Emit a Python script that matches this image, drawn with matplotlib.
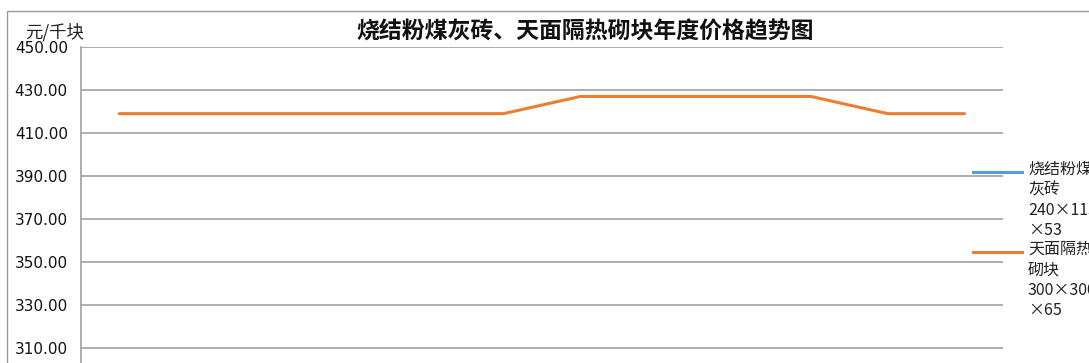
import matplotlib.pyplot as plt
from matplotlib.lines import Line2D
from matplotlib.patches import Rectangle
import numpy as np

plt.rcParams['font.family'] = ['Noto Sans CJK SC', 'DejaVu Sans']

# monthly prices, yuan per thousand blocks
months = ['1月', '2月', '3月', '4月', '5月', '6月', '7月', '8月', '9月', '10月', '11月', '12月']
brick_price = [298, 298, 298, 298, 298, 298, 298, 298, 298, 298, 298, 298]
block_price = [419, 419, 419, 419, 419, 419, 427, 427, 427, 427, 419, 419]
y_ticks = [310, 330, 350, 370, 390, 410, 430, 450]
brick_label = '烧结粉煤\n灰砖\n240×115\n×53'
block_label = '天面隔热\n砌块\n300×300\n×65'

W, H = 1089, 363
fig = plt.figure(figsize=(W / 100, H / 100), dpi=100)

# outer chart frame
fig.add_artist(Rectangle((7 / W, -0.1), 1.2, 1 - 11 / H + 0.1, transform=fig.transFigure,
                         fill=False, edgecolor='#9a9a9a', linewidth=1.0))

left, right, top = 81 / W, 1003 / W, 1 - 47 / H
ymin, ymax = 290, 450
height = (ymax - ymin) / 20 * 43 / H
ax = fig.add_axes([left, top - height, right - left, height])

x = np.arange(len(months))
ax.plot(x, brick_price, color='#5B9BD5', linewidth=2.2, solid_capstyle='round')
ax.plot(x, block_price, color='#ED7D31', linewidth=2.2, solid_capstyle='round')

ax.set_xlim(-0.5, len(months) - 0.5)
ax.set_ylim(ymin, ymax)
ax.set_yticks(y_ticks)
ax.set_yticklabels(['%.2f' % v for v in y_ticks], family='DejaVu Sans', fontsize=11, color='#111111')
ax.set_xticks([])
ax.tick_params(axis='y', length=0, pad=9.5)
ax.yaxis.grid(True, color='#a0a0a0', linewidth=1.2)
ax.set_axisbelow(True)
for side in ['top', 'right', 'bottom']:
    ax.spines[side].set_visible(False)
ax.spines['left'].set_color('#a0a0a0')
ax.spines['left'].set_linewidth(1.2)

fig.text(585 / W, 1 - 32 / H, '烧结粉煤灰砖、天面隔热砌块年度价格趋势图', ha='center', va='center',
         fontsize=16.5, fontweight='bold', color='#111111')
fig.text(25 / W, 1 - 32 / H, '元/千块', ha='left', va='center', fontsize=12.5, color='#222222')

# legend on the right, drawn by hand
for col, lab, ly in [('#5B9BD5', brick_label, 172), ('#ED7D31', block_label, 252)]:
    fig.add_artist(Line2D([973 / W, 1022 / W], [1 - ly / H, 1 - ly / H], transform=fig.transFigure,
                          color=col, linewidth=2.2))
    fig.text(1028 / W, 1 - (ly - 11) / H, lab, ha='left', va='top', fontsize=11.5,
             linespacing=1.26, color='#222222')

fig.savefig('out.png', dpi=100)
